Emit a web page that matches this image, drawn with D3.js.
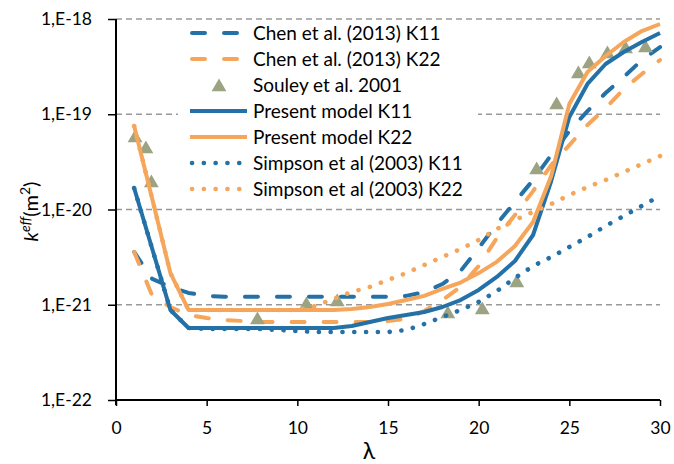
<!DOCTYPE html>
<html>
<head>
<meta charset="utf-8">
<script src="https://cdn.jsdelivr.net/npm/d3@7"></script>
<style>
  body { margin: 0; background: #fff; }
  svg text { font-family: Lato, "Open Sans", sans-serif; }
</style>
</head>
<body>
<svg id="chart" width="674" height="464"></svg>
<script>
// lambda values for the model curves
const lambda = [1, 2, 3, 4, 5, 6, 7, 8, 9, 10, 11, 12, 13, 14, 15, 16, 17, 18, 19, 20, 21, 22, 23, 24, 25, 26, 27, 28, 29, 30];

const chenK11 = [3.58e-21, 1.87e-21, 1.54e-21, 1.33e-21, 1.24e-21, 1.21e-21, 1.21e-21, 1.21e-21, 1.21e-21, 1.21e-21,
  1.21e-21, 1.21e-21, 1.21e-21, 1.21e-21, 1.21e-21, 1.24e-21, 1.36e-21, 1.65e-21, 2.26e-21, 3.95e-21,
  7.04e-21, 1.20e-20, 2.04e-20, 3.73e-20, 6.67e-20, 1.08e-19, 1.67e-19, 2.46e-19, 3.71e-19, 5.08e-19];
const chenK22 = [3.58e-21, 1.24e-21, 9.47e-22, 7.81e-22, 7.26e-22, 6.92e-22, 6.75e-22, 6.59e-22, 6.59e-22, 6.59e-22,
  6.59e-22, 6.59e-22, 6.59e-22, 6.59e-22, 6.75e-22, 7.09e-22, 8.60e-22, 1.12e-21, 1.54e-21, 2.55e-21,
  5.02e-21, 8.76e-21, 1.56e-20, 2.93e-20, 4.75e-20, 7.71e-20, 1.16e-19, 1.84e-19, 2.65e-19, 3.71e-19];
const presentK11 = [1.68e-20, 3.85e-21, 8.81e-22, 5.70e-22, 5.70e-22, 5.70e-22, 5.70e-22, 5.70e-22, 5.70e-22, 5.70e-22,
  5.70e-22, 5.70e-22, 5.98e-22, 6.59e-22, 7.26e-22, 7.81e-22, 8.39e-22, 9.47e-22, 1.12e-21, 1.43e-21,
  1.96e-21, 2.88e-21, 5.40e-21, 1.99e-20, 9.36e-20, 2.08e-19, 3.37e-19, 4.50e-19, 5.73e-19, 7.13e-19];
const presentK22 = [7.52e-20, 1.29e-20, 2.15e-21, 8.81e-22, 8.81e-22, 8.81e-22, 8.81e-22, 8.81e-22, 8.81e-22, 8.81e-22,
  8.81e-22, 8.81e-22, 9.0e-22, 9.47e-22, 1.02e-21, 1.12e-21, 1.24e-21, 1.47e-21, 1.71e-21, 2.15e-21,
  2.82e-21, 4.14e-21, 7.39e-21, 2.25e-20, 1.28e-19, 2.78e-19, 4.09e-19, 5.73e-19, 7.48e-19, 8.86e-19];
const simpsonK11 = [1.68e-20, 3.85e-21, 8.81e-22, 5.70e-22, 5.56e-22, 5.56e-22, 5.56e-22, 5.56e-22, 5.43e-22, 5.30e-22,
  5.17e-22, 5.17e-22, 5.17e-22, 5.17e-22, 5.17e-22, 5.43e-22, 6.28e-22, 7.44e-22, 8.81e-22, 1.07e-21,
  1.39e-21, 1.91e-21, 2.55e-21, 3.17e-21, 4.04e-21, 5.14e-21, 6.71e-21, 8.55e-21, 1.09e-20, 1.39e-20];
const simpsonK22 = [7.52e-20, 1.29e-20, 2.15e-21, 8.81e-22, 8.81e-22, 8.81e-22, 8.81e-22, 8.81e-22, 8.81e-22, 8.81e-22,
  9.70e-22, 1.15e-21, 1.36e-21, 1.54e-21, 1.82e-21, 2.15e-21, 2.61e-21, 3.17e-21, 3.85e-21, 4.78e-21,
  6.24e-21, 7.76e-21, 9.41e-21, 1.14e-20, 1.42e-20, 1.72e-20, 2.04e-20, 2.47e-20, 3.00e-20, 3.64e-20];

// Souley et al. 2001 measurements
const souleyX = [1.05, 1.65, 1.95, 7.8, 10.5, 12.2, 18.3, 20.2, 22.1, 23.2, 24.3, 25.5, 26.1, 27.1, 28.1, 29.2];
const souleyY = [5.91e-20, 4.53e-20, 1.99e-20, 7.26e-22, 1.04e-21, 1.12e-21, 8.39e-22, 9.24e-22, 1.78e-21,
  2.73e-20, 1.31e-19, 2.78e-19, 3.54e-19, 4.50e-19, 5.08e-19, 5.20e-19];

const xTicks = [0, 5, 10, 15, 20, 25, 30];
const yTicks = [1e-22, 1e-21, 1e-20, 1e-19, 1e-18];
const yTickLabels = ["1,E-22", "1,E-21", "1,E-20", "1,E-19", "1,E-18"];

const blue = "#2471a7", orange = "#f5a65a", olive = "#9ba383";
const font = "Lato, 'Open Sans', sans-serif";

const series = [
  { name: "Chen et al. (2013) K11", values: chenK11, color: blue, dash: "13,19" },
  { name: "Chen et al. (2013) K22", values: chenK22, color: orange, dash: "13,19" },
  { name: "Souley et al. 2001", marker: true },
  { name: "Present model K11", values: presentK11, color: blue, dash: null },
  { name: "Present model K22", values: presentK22, color: orange, dash: null },
  { name: "Simpson et al (2003) K11", values: simpsonK11, color: blue, dash: "0.1,11.7" },
  { name: "Simpson et al (2003) K22", values: simpsonK22, color: orange, dash: "0.1,11.7" }
];

const svg = d3.select("#chart");
const pLeft = 116, pRight = 660, pTop = 19, pBottom = 400;

const x = d3.scaleLinear().domain([0, 30]).range([pLeft, pRight]);
const y = d3.scaleLog().domain([1e-22, 1e-18]).range([pBottom, pTop]);

// gridlines
svg.append("g")
  .selectAll("line")
  .data(yTicks.slice(1))
  .join("line")
  .attr("x1", pLeft).attr("x2", pRight)
  .attr("y1", d => y(d)).attr("y2", d => y(d))
  .attr("stroke", "#999")
  .attr("stroke-width", 1.3)
  .attr("stroke-dasharray", "6,4");

// legend background sits over gridlines, under curves
svg.append("rect")
  .attr("x", 178).attr("y", 21)
  .attr("width", 300).attr("height", 180)
  .attr("fill", "#fff");

const line = d3.line()
  .x((d, i) => x(lambda[i]))
  .y(d => y(d));

const tri = d3.symbol().type(d3.symbolTriangle).size(95);

series.forEach(s => {
  if (s.marker) {
    svg.append("g")
      .selectAll("path")
      .data(souleyX)
      .join("path")
      .attr("d", tri)
      .attr("transform", (d, i) => `translate(${x(d)},${y(souleyY[i]) + 2})`)
      .attr("fill", olive);
    return;
  }
  svg.append("path")
    .datum(s.values)
    .attr("d", line)
    .attr("fill", "none")
    .attr("stroke", s.color)
    .attr("stroke-width", s.dash && s.dash.startsWith("0.1") ? 4.6 : 4)
    .attr("stroke-linecap", s.dash ? "round" : "butt")
    .attr("stroke-linejoin", "round")
    .attr("stroke-dasharray", s.dash);
});

// axes
const xAxis = svg.append("g")
  .attr("transform", `translate(0,${pBottom})`)
  .call(d3.axisBottom(x).tickValues(xTicks).tickSize(6).tickPadding(16).tickFormat(d3.format("d")));
const yAxis = svg.append("g")
  .attr("transform", `translate(${pLeft},0)`)
  .call(d3.axisLeft(y).tickValues(yTicks).tickSize(8).tickPadding(16)
    .tickFormat((d, i) => yTickLabels[i]));

[xAxis, yAxis].forEach(a => {
  a.attr("font-family", font).attr("font-size", 17.5);
  a.select(".domain").attr("stroke", "#000").attr("stroke-width", 2);
  a.selectAll(".tick line").attr("stroke", "#000").attr("stroke-width", 1.5);
  a.selectAll(".tick text").attr("fill", "#000");
});
xAxis.select(".domain").attr("d", `M${pLeft},0H${pRight}`);
yAxis.select(".domain").attr("d", `M0,${pBottom + 5}V${pTop}`);

// axis titles
svg.append("text")
  .attr("x", 369).attr("y", 459)
  .attr("text-anchor", "middle")
  .attr("font-size", 23)
  .text("λ");

const yt = svg.append("text")
  .attr("transform", `translate(38,${(pTop + pBottom) / 2 + 2}) rotate(-90)`)
  .attr("text-anchor", "middle")
  .attr("font-size", 20);
yt.append("tspan").attr("font-style", "italic").text("k");
yt.append("tspan").attr("font-style", "italic").attr("font-size", 14).attr("dy", -8).text("eff");
yt.append("tspan").attr("dy", 8).text("(m");
yt.append("tspan").attr("font-size", 14).attr("dy", -8).text("2");
yt.append("tspan").attr("dy", 8).text(")");

// legend
const leg = svg.append("g");
series.forEach((s, i) => {
  const cy = 33 + i * 26;
  if (s.marker) {
    leg.append("path")
      .attr("d", tri)
      .attr("transform", `translate(219,${cy + 2})`)
      .attr("fill", olive);
  } else {
    leg.append("line")
      .attr("x1", s.dash ? 192 : 190).attr("x2", 247)
      .attr("y1", cy).attr("y2", cy)
      .attr("stroke", s.color)
      .attr("stroke-width", s.dash && s.dash.startsWith("0.1") ? 4.6 : 4)
      .attr("stroke-linecap", s.dash ? "round" : "butt")
      .attr("stroke-dasharray", s.dash);
  }
  leg.append("text")
    .attr("x", 253).attr("y", cy)
    .attr("dy", "0.35em")
    .attr("font-size", 19)
    .attr("fill", "#000")
    .text(s.name);
});
</script>
</body>
</html>
